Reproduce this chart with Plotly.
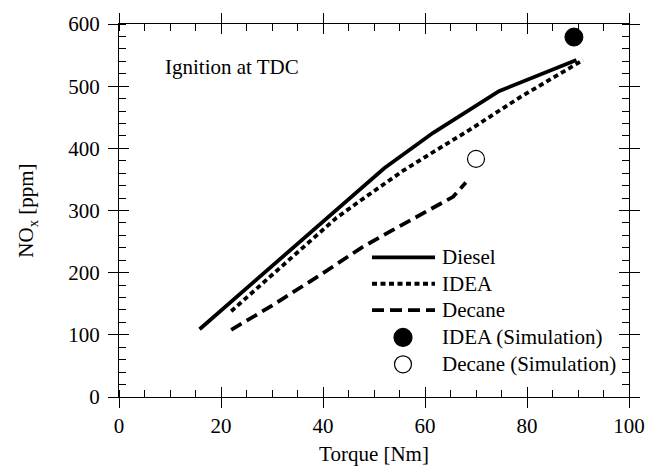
import plotly.graph_objects as go

# ---------------- data ----------------
diesel_x = [15.8, 52.0, 61.6, 74.5, 89.7]
diesel_y = [109, 368, 425, 492, 542]

idea_x = [22.0, 30.0, 39.3, 42.6, 47.0, 55.7, 62.0, 68.8, 78.6, 85.1, 91.0]
idea_y = [138, 196, 264, 288, 314, 364, 396, 430, 482, 514, 542]

decane_x = [22.0, 30.0, 39.4, 47.5, 53.1, 58.3, 62.0, 65.5, 68.0]
decane_y = [108, 147, 196, 240, 266, 290, 306, 322, 345]

idea_sim_x = [89.2]
idea_sim_y = [579]
decane_sim_x = [70.0]
decane_sim_y = [383]

x_ticks = [0, 20, 40, 60, 80, 100]
y_ticks = [0, 100, 200, 300, 400, 500, 600]

legend_names = ["Diesel", "IDEA", "Decane", "IDEA (Simulation)", "Decane (Simulation)"]

FONT = "Liberation Serif"
FS = 21
W, H = 662, 473
ML, MR, MT, MB = 119, 33, 18, 73
PW, PH = W - ML - MR, H - MT - MB

DOT = "5px,3.5px"
DASH = "12px,6px"
LW = 3.8

fig = go.Figure()
fig.add_trace(go.Scatter(x=diesel_x, y=diesel_y, mode="lines",
                         line=dict(color="black", width=LW), showlegend=False))
fig.add_trace(go.Scatter(x=idea_x, y=idea_y, mode="lines",
                         line=dict(color="black", width=LW, dash=DOT), showlegend=False))
fig.add_trace(go.Scatter(x=decane_x, y=decane_y, mode="lines",
                         line=dict(color="black", width=LW, dash=DASH), showlegend=False))
fig.add_trace(go.Scatter(x=idea_sim_x, y=idea_sim_y, mode="markers",
                         marker=dict(color="black", size=18, line=dict(color="black", width=1)),
                         showlegend=False))
fig.add_trace(go.Scatter(x=decane_sim_x, y=decane_sim_y, mode="markers",
                         marker=dict(color="white", size=17, line=dict(color="black", width=1.2)),
                         showlegend=False))
# invisible trace to create overlay axes that carry the inward major ticks
fig.add_trace(go.Scatter(x=[50], y=[300], xaxis="x2", yaxis="y2", mode="markers",
                         marker=dict(size=1, opacity=0),
                         showlegend=False, hoverinfo="skip"))

tickc = dict(tickcolor="black", tickwidth=1.3)

fig.update_layout(
    width=W, height=H,
    margin=dict(l=ML, r=MR, t=MT, b=MB, pad=0),
    paper_bgcolor="white", plot_bgcolor="white",
    font=dict(family=FONT, size=FS, color="black"),
    showlegend=False,
    xaxis=dict(range=[0, 100], tickvals=x_ticks, ticks="outside", ticklen=10, **tickc,
               showline=True, linecolor="black", linewidth=1.3, mirror="allticks",
               showgrid=False, zeroline=False,
               minor=dict(dtick=5, ticks="inside", ticklen=7, **tickc),
               tickfont=dict(family=FONT, size=FS),
               title=dict(text="Torque [Nm]", font=dict(family=FONT, size=FS), standoff=8)),
    yaxis=dict(range=[0, 600], tickvals=y_ticks, ticks="outside", ticklen=10, **tickc,
               showline=True, linecolor="black", linewidth=1.3, mirror="allticks",
               showgrid=False, zeroline=False,
               minor=dict(dtick=20, ticks="inside", ticklen=7, **tickc),
               tickfont=dict(family=FONT, size=FS), ticklabelstandoff=4,
               title=dict(text="NO<sub>x</sub> [ppm]", font=dict(family=FONT, size=FS), standoff=28)),
    xaxis2=dict(overlaying="x", side="bottom", range=[0, 100], tickvals=x_ticks,
                ticks="inside", ticklen=10, **tickc, showticklabels=False,
                showline=False, mirror="allticks", showgrid=False, zeroline=False),
    yaxis2=dict(overlaying="y", side="left", range=[0, 600], tickvals=y_ticks,
                ticks="inside", ticklen=10, **tickc, showticklabels=False,
                showline=False, mirror="allticks", showgrid=False, zeroline=False),
)


def px(xp):
    return (xp - ML) / PW


def py(yp):
    return (MT + PH - yp) / PH


annotations = [dict(text="Ignition at TDC", x=px(163), y=py(62), xref="paper", yref="paper",
                    xanchor="left", yanchor="middle", showarrow=False,
                    font=dict(family=FONT, size=FS))]
shapes = []

# manual legend
row_y = [257, 284, 311, 339, 366.5]
line_x0, line_x1, mark_x, text_x = 372, 435, 403, 440
dashes = ["solid", DOT, DASH]
for i in range(3):
    shapes.append(dict(type="line", xref="paper", yref="paper",
                       x0=px(line_x0), x1=px(line_x1), y0=py(row_y[i]), y1=py(row_y[i]),
                       line=dict(color="black", width=LW, dash=dashes[i])))
for i, fill in [(3, "black"), (4, "white")]:
    r = 9 if fill == "black" else 8.5
    shapes.append(dict(type="circle", xref="paper", yref="paper",
                       xsizemode="pixel", ysizemode="pixel",
                       xanchor=px(mark_x), yanchor=py(row_y[i]),
                       x0=-r, x1=r, y0=-r, y1=r,
                       fillcolor=fill, line=dict(color="black", width=1.2)))
for i, name in enumerate(legend_names):
    annotations.append(dict(text=name, x=px(text_x), y=py(row_y[i]), xref="paper", yref="paper",
                            xanchor="left", yanchor="middle", showarrow=False,
                            font=dict(family=FONT, size=FS)))

fig.update_layout(annotations=annotations, shapes=shapes)
fig.write_html("out.html")
